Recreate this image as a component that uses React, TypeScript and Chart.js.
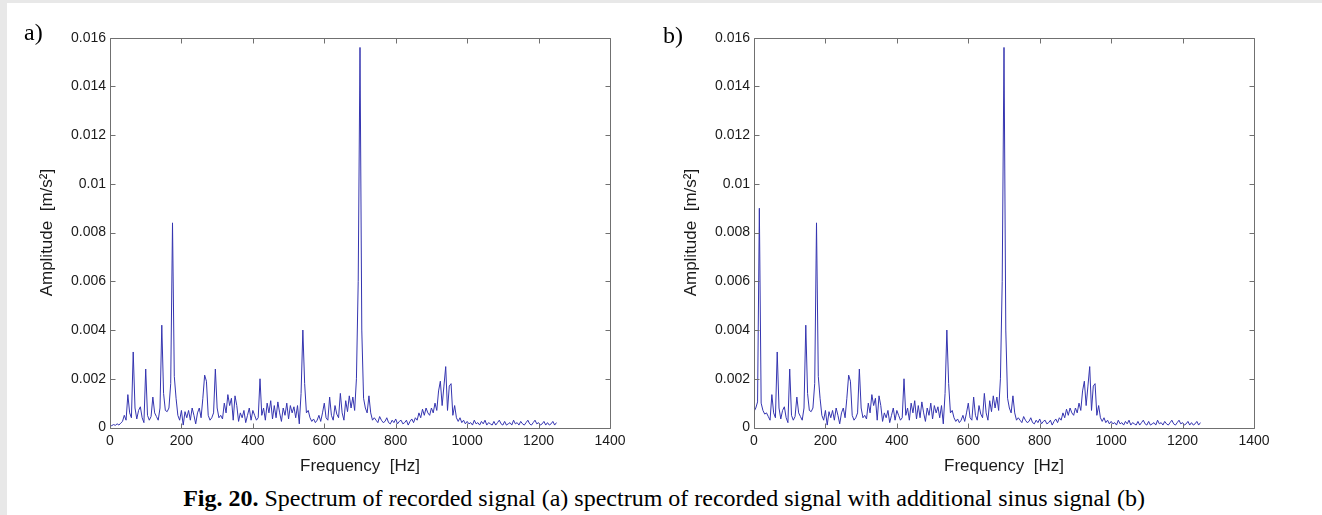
import React, { useEffect, useRef } from "react";
import { Chart, registerables } from "chart.js";

Chart.register(...registerables);

// ---------- data ----------
const FREQ_STEP_HZ = 5; // spectral bin spacing
const X_TICKS = [0, 200, 400, 600, 800, 1000, 1200, 1400];
const Y_TICKS = [0, 0.002, 0.004, 0.006, 0.008, 0.01, 0.012, 0.014, 0.016];

// (a) spectrum of recorded signal, bins 0..1250 Hz every 5 Hz
const AMP_A = [
  0.00005, 0.00008, 0.00012, 0.00009, 0.00015, 0.0001, 0.00018, 0.00025, 0.0005, 0.0003,
  0.00135, 0.0006, 0.0004, 0.0031, 0.0008, 0.00035, 0.0007, 0.00085, 0.0004, 0.0002,
  0.0024, 0.0005, 0.0003, 0.00045, 0.00125, 0.0006, 0.00045, 0.0003, 0.0008, 0.0042,
  0.0014, 0.0007, 0.00065, 0.0008, 0.0018, 0.0084, 0.0021, 0.0012, 0.0005, 0.0003,
  0.0007, 0.0001, 0.00065, 0.0004, 0.0007, 0.0003, 0.0008, 0.0005, 0.00015, 0.0006,
  0.0008, 0.0004, 0.0012, 0.00215, 0.0019, 0.0005, 0.0003, 0.0004, 0.0006, 0.0024,
  0.0008, 0.0004, 0.0005, 0.00035, 0.001, 0.0006, 0.00135, 0.0009, 0.0012, 0.0003,
  0.0013, 0.0009, 0.00025, 0.0006, 0.0004, 0.0007, 0.0002, 0.0005, 0.0008, 0.0003,
  0.0007, 0.0005, 0.0003, 0.0004, 0.002, 0.0005, 0.0008, 0.0003, 0.001, 0.0006,
  0.0011, 0.00035, 0.0009, 0.0004, 0.00105, 0.0006, 0.00025, 0.0008, 0.0005, 0.001,
  0.00035, 0.0009, 0.0006, 0.00085, 0.0004, 0.0009, 0.00015, 0.0014, 0.004, 0.0018,
  0.0006, 0.0007, 0.0004, 0.00025, 0.00035, 0.0002, 0.0003, 0.0005, 0.00025, 0.0006,
  0.001, 0.0004, 0.0003, 0.00125, 0.0005, 0.0003, 0.0009, 0.00055, 0.0004, 0.0014,
  0.0006, 0.0003, 0.0011, 0.00065, 0.0013, 0.0008, 0.00125, 0.0007, 0.002, 0.006,
  0.0156, 0.004, 0.0012, 0.0008, 0.0006, 0.0013, 0.0006, 0.0003, 0.0004, 0.0003,
  0.0002, 0.00045, 0.0003, 0.0002, 0.00025, 0.0004, 0.0002, 0.00015, 0.0003, 0.0002,
  0.00035, 0.00015, 0.00025, 0.0003, 0.00015, 0.0002, 0.0003, 0.0001, 0.00025, 0.00035,
  0.0002, 0.0004, 0.0003, 0.0006, 0.0004, 0.00075, 0.0005, 0.0008, 0.0006, 0.0005,
  0.0008, 0.0006, 0.001, 0.0007, 0.0015, 0.0019, 0.0009, 0.0017, 0.0025, 0.0007,
  0.0017, 0.0018, 0.0005, 0.0009, 0.0004, 0.00025, 0.0004, 0.0002, 0.0003, 0.00015,
  0.00025, 0.00015, 0.0002, 0.0001, 0.0003, 0.00015, 0.0002, 0.0001, 0.00025, 0.00015,
  0.0003, 0.0001, 0.0002, 0.00015, 0.0001, 0.00025, 0.0001, 0.0002, 0.0003, 0.00015,
  0.0001, 0.00025, 0.0001, 0.00015, 0.0002, 0.0001, 0.0003, 0.00015, 0.0002, 0.0001,
  0.00025, 0.00015, 0.0001, 0.0002, 0.0003, 0.00015, 0.0001, 0.0002, 0.0003, 0.00015,
  0.0002, 0.0001, 0.00015, 0.00025, 0.0001, 0.0002, 0.0001, 0.00015, 0.00025, 0.0001,
  0.0002,
];

// (b) first bins (0..40 Hz) where the added sinus signal changes the spectrum
const AMP_B_LOW = [0.00065, 0.0008, 0.00105, 0.009, 0.001, 0.0007, 0.00055, 0.0006, 0.00045];
const AMP_B = [...AMP_B_LOW, ...AMP_A.slice(AMP_B_LOW.length)];

const X_TITLE = "Frequency  [Hz]";
const Y_TITLE = "Amplitude  [m/s²]";
const CAPTION_BOLD = "Fig. 20.";
const CAPTION_TEXT = " Spectrum of recorded signal (a) spectrum of recorded signal with additional sinus signal (b)";

// ---------- styling ----------
const LINE_COLOR = "#3535b0";
const AXIS_COLOR = "#707070";
const TEXT_COLOR = "#1a1a1a";
const SANS = "'Liberation Sans', Arial, sans-serif";
const SERIF = "'Liberation Serif', 'Times New Roman', serif";

const framePlugin = {
  id: "frame",
  afterDatasetsDraw(chart: any) {
    const { ctx, chartArea: a, scales } = chart;
    const L = 5;
    ctx.save();
    ctx.strokeStyle = AXIS_COLOR;
    ctx.lineWidth = 1;
    ctx.beginPath();
    const l = Math.round(a.left) + 0.5;
    const r = Math.round(a.right) + 0.5;
    const t = Math.round(a.top) + 0.5;
    const b = Math.round(a.bottom) + 0.5;
    ctx.rect(l, t, r - l, b - t);
    for (const tk of scales.x.ticks) {
      const x = Math.round(scales.x.getPixelForValue(tk.value)) + 0.5;
      ctx.moveTo(x, b);
      ctx.lineTo(x, b - L);
      ctx.moveTo(x, t);
      ctx.lineTo(x, t + L);
    }
    for (const tk of scales.y.ticks) {
      const y = Math.round(scales.y.getPixelForValue(tk.value)) + 0.5;
      ctx.moveTo(l, y);
      ctx.lineTo(l + L, y);
      ctx.moveTo(r, y);
      ctx.lineTo(r - L, y);
    }
    ctx.stroke();
    ctx.restore();
  },
};

const CANVAS_W = 620;
const CANVAS_H = 460;

function Spectrum({ amps, left, top }: { amps: number[]; left: number; top: number }) {
  const ref = useRef<HTMLCanvasElement | null>(null);
  useEffect(() => {
    if (!ref.current) return;
    const data = amps.map((v, i) => ({ x: i * FREQ_STEP_HZ, y: v }));
    const chart = new Chart(ref.current, {
      type: "line",
      data: {
        datasets: [
          {
            data,
            borderColor: LINE_COLOR,
            borderWidth: 1,
            pointRadius: 0,
            tension: 0,
            fill: false,
          },
        ],
      },
      options: {
        animation: false,
        responsive: false,
        events: [],
        layout: { padding: { left: 0, right: 30, top: 17.7, bottom: 0 } },
        plugins: { legend: { display: false }, tooltip: { enabled: false } },
        scales: {
          x: {
            type: "linear",
            min: X_TICKS[0],
            max: X_TICKS[X_TICKS.length - 1],
            afterBuildTicks: (s: any) => {
              s.ticks = X_TICKS.map((v) => ({ value: v }));
            },
            afterFit: (s: any) => {
              s.height = 52.5;
            },
            grid: { display: false, drawTicks: false },
            border: { display: false },
            ticks: {
              color: TEXT_COLOR,
              font: { family: SANS, size: 14 },
              padding: 5,
              maxRotation: 0,
              autoSkip: false,
              callback: (v: any) => String(v),
            },
            title: {
              display: true,
              text: X_TITLE,
              color: TEXT_COLOR,
              font: { family: SANS, size: 17 },
              padding: { top: 0, bottom: 3.8 },
            },
          },
          y: {
            type: "linear",
            min: Y_TICKS[0],
            max: Y_TICKS[Y_TICKS.length - 1],
            afterBuildTicks: (s: any) => {
              s.ticks = Y_TICKS.map((v) => ({ value: v }));
            },
            afterFit: (s: any) => {
              s.width = 90;
            },
            grid: { display: false, drawTicks: false },
            border: { display: false },
            ticks: {
              color: TEXT_COLOR,
              font: { family: SANS, size: 14 },
              padding: 4,
              autoSkip: false,
              callback: (v: any) => String(parseFloat(Number(v).toFixed(4))),
            },
            title: {
              display: true,
              text: Y_TITLE,
              color: TEXT_COLOR,
              font: { family: SANS, size: 17 },
              padding: { top: 16.8, bottom: 0 },
            },
          },
        },
      },
      plugins: [framePlugin],
    } as any);
    return () => chart.destroy();
  }, [amps]);
  return (
    <canvas
      ref={ref}
      width={CANVAS_W}
      height={CANVAS_H}
      style={{ position: "absolute", left, top, width: CANVAS_W, height: CANVAS_H }}
    />
  );
}

export default function App() {
  const panelLabel: React.CSSProperties = {
    position: "absolute",
    fontFamily: SERIF,
    fontSize: 24,
    lineHeight: "24px",
    color: "#000",
    whiteSpace: "nowrap",
  };
  return (
    <div
      style={{
        position: "absolute",
        left: 0,
        top: 0,
        width: 1322,
        height: 515,
        background: "#e8e8e8",
        overflow: "hidden",
      }}
    >
      <div style={{ position: "absolute", left: 7, top: 3, right: 0, bottom: 0, background: "#fff" }} />
      <Spectrum amps={AMP_A} left={20} top={20} />
      <Spectrum amps={AMP_B} left={664.3} top={20} />
      <div style={{ ...panelLabel, left: 24, top: 20 }}>a)</div>
      <div style={{ ...panelLabel, left: 663, top: 23 }}>b)</div>
      <div
        style={{
          position: "absolute",
          left: 7,
          width: 1314,
          top: 486,
          textAlign: "center",
          fontFamily: SERIF,
          fontSize: 24,
          lineHeight: "24px",
          color: "#000",
          whiteSpace: "nowrap",
        }}
      >
        <b>{CAPTION_BOLD}</b>
        {CAPTION_TEXT}
      </div>
    </div>
  );
}
